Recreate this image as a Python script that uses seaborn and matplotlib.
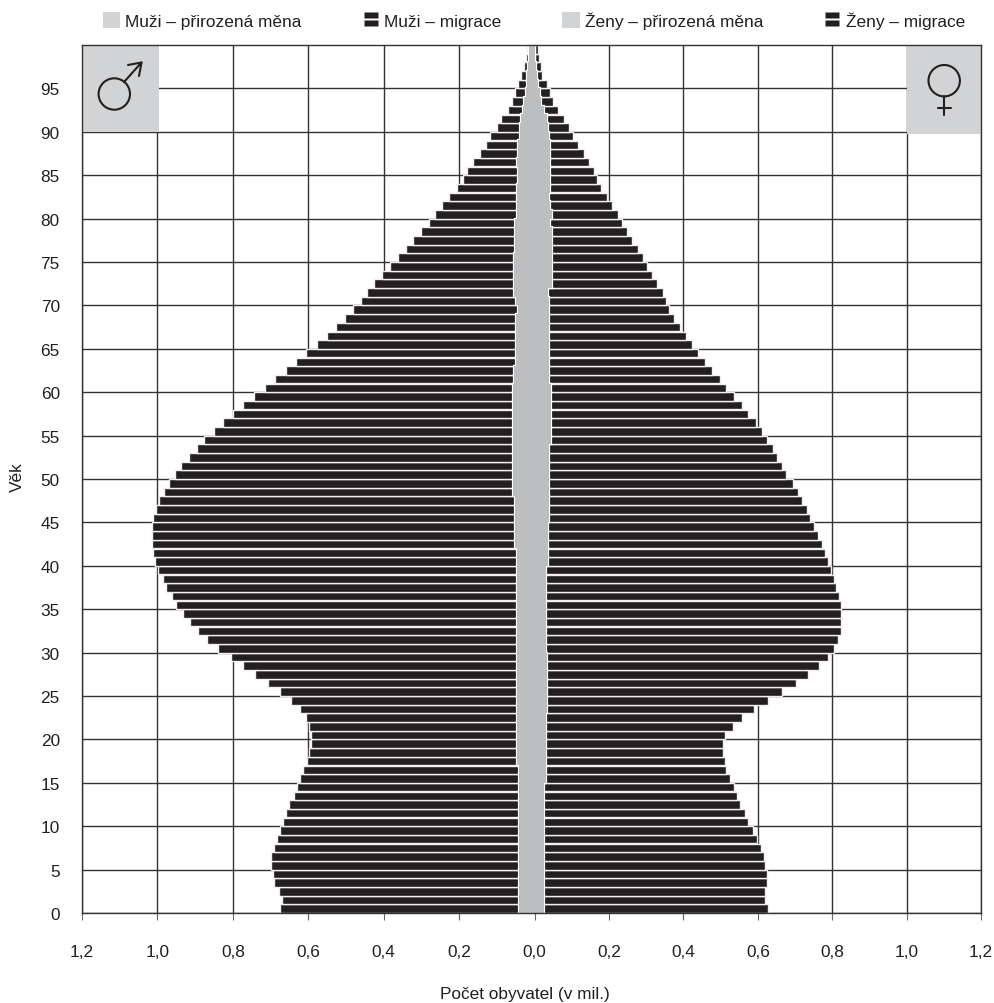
import numpy as np
import pandas as pd
import matplotlib
matplotlib.use("Agg")
import matplotlib.pyplot as plt
import seaborn as sns
from matplotlib.lines import Line2D
from matplotlib.patches import Ellipse, Patch, Rectangle
from matplotlib.path import Path

# --- data, age 0 to 99, in millions ---
vek = np.arange(100)

muzi_celkem = [
    .675, .671, .679, .691, .695, .700, .700, .691, .683, .675,
    .666, .658, .650, .638, .630, .621, .613, .604, .597, .593,
    .593, .597, .605, .621, .646, .675, .708, .741, .773, .806,
    .839, .868, .892, .913, .933, .950, .962, .978, .986, .998,
    1.006, 1.011, 1.015, 1.015, 1.015, 1.011, 1.003, .995, .983, .970,
    .953, .937, .917, .896, .876, .851, .826, .801, .773, .745,
    .716, .688, .658, .633, .605, .576, .551, .527, .502, .482,
    .461, .444, .425, .404, .384, .363, .342, .322, .301, .281,
    .265, .245, .228, .207, .191, .179, .163, .146, .130, .118,
    .101, .089, .072, .059, .051, .043, .036, .028, .023, .020,
]
muzi_prirozena = [
    .042, .042, .042, .042, .042, .042, .042, .042, .042, .042,
    .042, .042, .042, .042, .042, .042, .042, .048, .048, .048,
    .048, .048, .048, .048, .048, .048, .048, .048, .048, .048,
    .048, .048, .048, .048, .048, .048, .048, .048, .048, .048,
    .048, .048, .053, .053, .053, .053, .053, .053, .057, .057,
    .057, .057, .057, .057, .057, .057, .057, .057, .057, .057,
    .057, .054, .054, .049, .049, .049, .049, .049, .049, .043,
    .049, .054, .054, .055, .055, .055, .052, .052, .052, .052,
    .048, .048, .048, .048, .043, .043, .048, .043, .043, .040,
    .040, .036, .031, .028, .024, .021, .020, .018, .016, .014,
]
zeny_celkem = [
    .628, .620, .620, .624, .624, .620, .616, .608, .598, .586,
    .573, .565, .553, .545, .536, .524, .515, .512, .507, .507,
    .512, .532, .557, .590, .628, .666, .702, .735, .765, .789,
    .806, .815, .823, .823, .823, .823, .819, .811, .806, .797,
    .789, .781, .773, .761, .752, .740, .731, .719, .707, .694,
    .677, .665, .652, .640, .624, .611, .594, .573, .557, .536,
    .515, .499, .477, .457, .440, .424, .407, .390, .374, .361,
    .353, .344, .328, .315, .303, .290, .278, .262, .249, .236,
    .225, .208, .195, .178, .167, .159, .145, .133, .116, .104,
    .091, .078, .062, .049, .041, .032, .020, .016, .012, .008,
]
zeny_prirozena = [
    .026, .026, .026, .026, .026, .026, .026, .026, .026, .026,
    .026, .026, .026, .026, .026, .030, .030, .030, .030, .030,
    .030, .030, .030, .034, .034, .034, .034, .034, .034, .034,
    .030, .030, .030, .030, .030, .030, .030, .030, .030, .030,
    .035, .035, .035, .035, .035, .038, .038, .038, .038, .038,
    .038, .038, .038, .038, .044, .044, .044, .044, .044, .044,
    .044, .038, .038, .038, .038, .038, .038, .038, .038, .038,
    .038, .037, .046, .046, .046, .046, .046, .046, .046, .042,
    .046, .042, .038, .042, .042, .042, .042, .042, .042, .038,
    .035, .034, .026, .018, .014, .010, .005, .003, .002, .001,
]

tick_hodnoty = [0.0, 0.2, 0.4, 0.6, 0.8, 1.0, 1.2]
tick_popisky = ["0,0", "0,2", "0,4", "0,6", "0,8", "1,0", "1,2"]
tick_vek = list(range(0, 100, 5))

legenda = ["Muži – přirozená měna", "Muži – migrace", "Ženy – přirozená měna", "Ženy – migrace"]

CERNA = "#231f20"
SEDA = "#bcbec0"
CTVEREC = "#d1d3d4"
MRIZKA = "#333333"

sns.set_theme(style="white")
plt.rcParams["font.family"] = ["Liberation Sans", "DejaVu Sans"]
plt.rcParams["text.color"] = "#231f20"

W, H = 994, 1004
FONT = 12.4
fig = plt.figure(figsize=(W / 100, H / 100), dpi=100)

# two halves, the scale is slightly different on each side in the original
ax_l = fig.add_axes([82 / W, (H - 914) / H, (534.7 - 82) / W, 868 / H])
ax_r = fig.add_axes([534.7 / W, (H - 914) / H, (981 - 534.7) / W, 868 / H])

df = pd.DataFrame({
    "stred": vek + 0.5,
    "muzi_celkem": muzi_celkem,
    "muzi_prirozena": muzi_prirozena,
    "zeny_celkem": zeny_celkem,
    "zeny_prirozena": zeny_prirozena,
})


def draw_half(ax, celkem, prirozena):
    ax.set_axisbelow(True)
    # total first, natural change on top of it; the rest showing is migration
    sns.barplot(data=df, x=celkem, y="stred", orient="y", native_scale=True, color=CERNA,
                saturation=1, width=0.98, edgecolor="#f0f0f0", linewidth=1.0, ax=ax)
    sns.barplot(data=df, x=prirozena, y="stred", orient="y", native_scale=True, color="white",
                saturation=1, width=1.0, edgecolor="white", linewidth=1.6, ax=ax)
    sns.barplot(data=df, x=prirozena, y="stred", orient="y", native_scale=True, color=SEDA,
                saturation=1, width=1.0, linewidth=0, ax=ax)
    ax.set_ylim(0, 100)
    ax.set_xlabel("")
    ax.set_ylabel("")
    ax.grid(True, color=MRIZKA, linewidth=1.0)
    for s in ax.spines.values():
        s.set_color(MRIZKA)
        s.set_linewidth(1.0)


draw_half(ax_l, "muzi_celkem", "muzi_prirozena")
draw_half(ax_r, "zeny_celkem", "zeny_prirozena")

ax_l.set_xlim(1.2, 0)
ax_r.set_xlim(0, 1.2)
ax_l.spines["right"].set_visible(False)
ax_r.spines["left"].set_visible(False)

ax_l.set_xticks(tick_hodnoty, tick_popisky)
ax_r.set_xticks(tick_hodnoty[1:], tick_popisky[1:])
ax_l.set_yticks(tick_vek, [str(v) for v in tick_vek])
ax_r.set_yticks(tick_vek, [""] * len(tick_vek))

for ax in (ax_l, ax_r):
    ax.tick_params(axis="x", bottom=True, length=5, width=0.8, color="#666666", pad=17,
                   labelsize=FONT, labelcolor=CERNA)
    ax.tick_params(axis="y", left=False, right=False, length=0, pad=16, labelsize=FONT, labelcolor=CERNA)

# grey corner squares
ax_l.add_patch(Rectangle((0.995, 90), 0.205, 10, facecolor=CTVEREC, edgecolor="none", zorder=1.5))
ax_r.add_patch(Rectangle((1.0, 89.7), 0.2, 10.3, facecolor=CTVEREC, edgecolor="none", zorder=1.5))


# gender signs, thin outlines like the original (pixel positions on the figure)
def znak_kruh(cx, cy, r):
    fig.add_artist(Ellipse((cx / W, 1 - cy / H), 2 * r / W, 2 * r / H, transform=fig.transFigure,
                           facecolor="none", edgecolor=CERNA, linewidth=1.5, zorder=5))


def znak_cara(xs, ys):
    fig.add_artist(Line2D([x / W for x in xs], [1 - y / H for y in ys], transform=fig.transFigure,
                          color=CERNA, linewidth=1.5, zorder=5))


znak_kruh(114.3, 95, 15.7)
znak_cara([124, 141.5], [83, 63.5])
znak_cara([128, 141.5, 139], [66, 63.5, 77])

znak_kruh(944.2, 81.7, 15.7)
znak_cara([944.2, 944.2], [97.4, 115.5])
znak_cara([938, 950.7], [109.3, 109.3])

fig.text(17 / W, 1 - 477 / H, "Věk", rotation=90, ha="center", va="center", fontsize=FONT)
fig.text(525 / W, 1 - 994.5 / H, "Počet obyvatel (v mil.)", ha="center", va="center", fontsize=FONT)

# striped swatch for the migration entries
pruhy = Path([(-.5, -.5), (.5, -.5), (.5, -.08), (-.5, -.08), (-.5, -.5),
              (-.5, .08), (.5, .08), (.5, .5), (-.5, .5), (-.5, .08)],
             [1, 2, 2, 2, 79, 1, 2, 2, 2, 79])
seda_h = Patch(facecolor=CTVEREC, edgecolor="none")
pruh_h = Line2D([], [], linestyle="none", marker=pruhy, markersize=10, markerfacecolor=CERNA,
                markeredgecolor="none")
fig.legend([seda_h, pruh_h, seda_h, pruh_h], legenda, loc="center", ncol=4, frameon=False,
           bbox_to_anchor=(534 / W, 1 - 21 / H), fontsize=FONT, columnspacing=3.52, handlelength=1.0,
           handleheight=1.0, handletextpad=0.3, borderpad=0, borderaxespad=0)

fig.savefig("out.png", dpi=100)
